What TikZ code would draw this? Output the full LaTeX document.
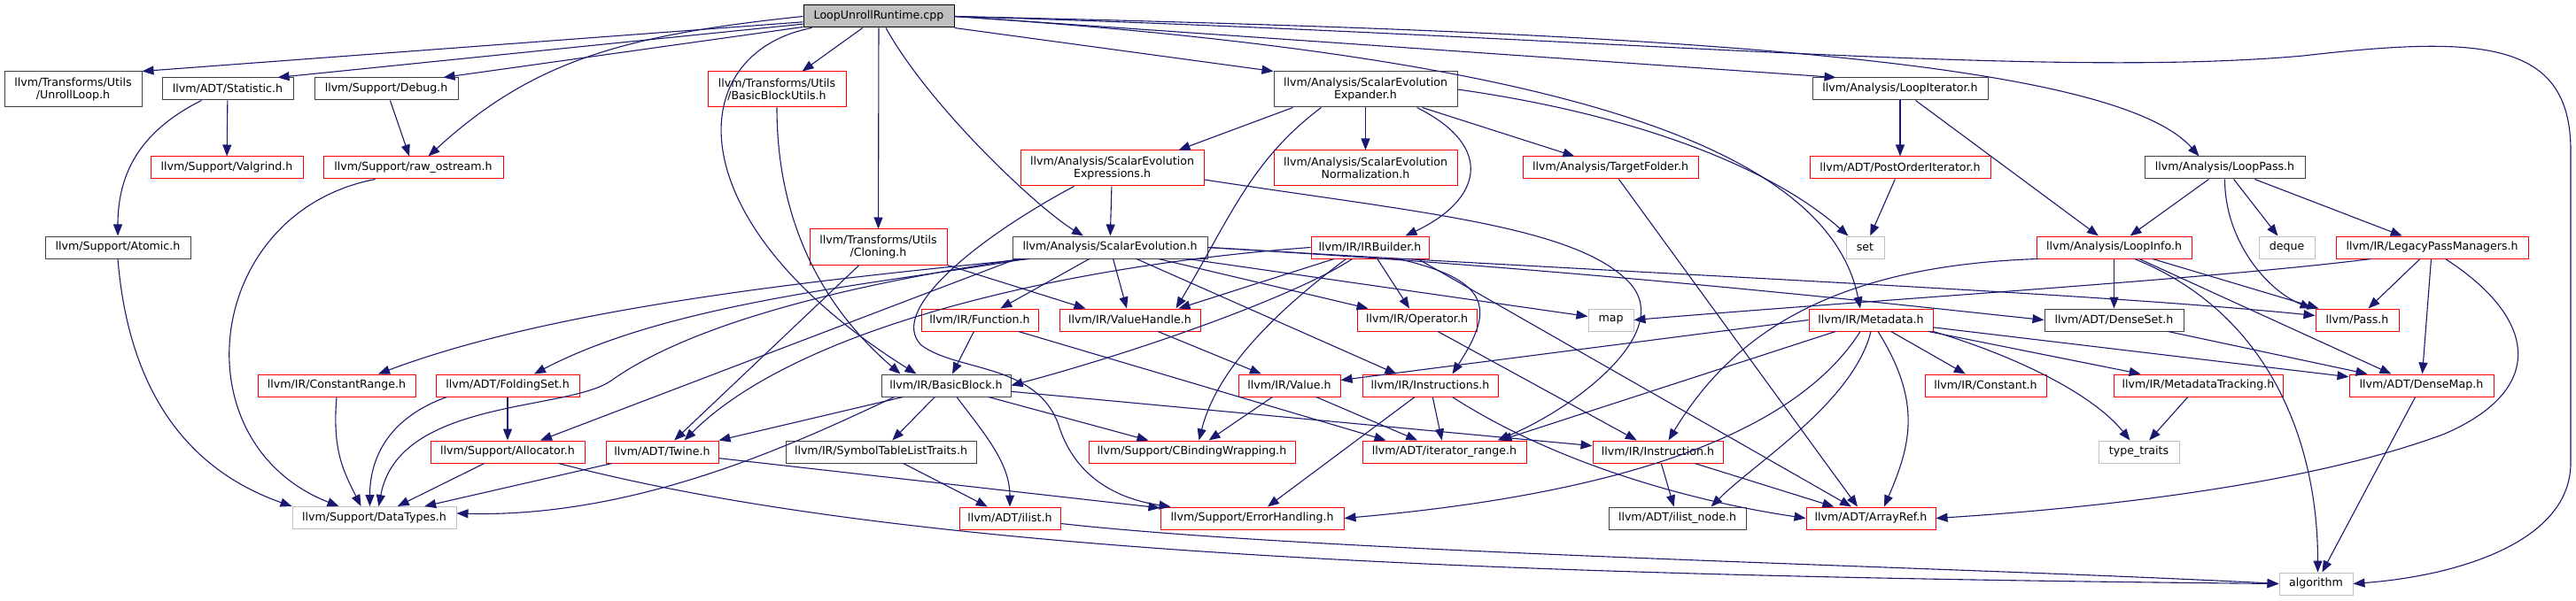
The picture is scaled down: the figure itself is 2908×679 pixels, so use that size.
\documentclass[tikz,border=0pt]{standalone}
\usepackage{fontspec}
\setmainfont{DejaVu Sans}
\usetikzlibrary{arrows.meta,calc}

\definecolor{edgeblue}{HTML}{191970}
\definecolor{boxgray}{HTML}{BFBFBF}
\definecolor{boxdark}{HTML}{404040}

\begin{document}
\begin{tikzpicture}[
  x=1pt,y=-1pt,
  font=\fontsize{12.6}{14.3}\selectfont,
  file/.style={draw,rectangle,fill=white,line width=1pt,inner xsep=2pt,inner ysep=1pt,
               minimum height=25pt,align=center},
  hdr/.style={file,draw=boxdark},
  cut/.style={file,draw=red},
  std/.style={file,draw=boxgray},
  main/.style={file,draw=black,fill=boxgray},
  two/.style={minimum height=40pt},
  dep/.style={draw=edgeblue,line width=1.1pt,-{Triangle[length=13pt,width=10pt]}},
]
\fill[white] (0,0) rectangle (2908,679);
\useasboundingbox (0,0) rectangle (2908,679);

\node[main,minimum width=170pt] (root) at (992,18.5) {LoopUnrollRuntime.cpp};

\node[hdr,two,minimum width=155pt] (unrollloop) at (82.5,101) {llvm/Transforms/Utils\\/UnrollLoop.h};
\node[hdr,minimum width=148pt] (statistic) at (257,100.5) {llvm/ADT/Statistic.h};
\node[hdr,minimum width=162pt] (debug) at (436,100.5) {llvm/Support/Debug.h};
\node[cut,two,minimum width=156pt] (bbutils) at (877,101) {llvm/Transforms/Utils\\/BasicBlockUtils.h};
\node[hdr,two,minimum width=207pt] (expander) at (1541.5,101) {llvm/Analysis/ScalarEvolution\\Expander.h};
\node[hdr,minimum width=198pt] (loopiter) at (2145,100.5) {llvm/Analysis/LoopIterator.h};

\node[cut,minimum width=172pt] (valgrind) at (256,189.5) {llvm/Support/Valgrind.h};
\node[cut,minimum width=203pt] (rawostream) at (466.5,189.5) {llvm/Support/raw\_ostream.h};
\node[cut,two,minimum width=207pt] (expressions) at (1255.5,190) {llvm/Analysis/ScalarEvolution\\Expressions.h};
\node[cut,two,minimum width=207pt] (normalization) at (1541.5,190) {llvm/Analysis/ScalarEvolution\\Normalization.h};
\node[cut,minimum width=198pt] (targetfolder) at (1818,189.5) {llvm/Analysis/TargetFolder.h};
\node[cut,minimum width=204pt] (postorder) at (2145,189.5) {llvm/ADT/PostOrderIterator.h};
\node[hdr,minimum width=181pt] (looppass) at (2511.5,189.5) {llvm/Analysis/LoopPass.h};

\node[hdr,minimum width=164pt] (atomic) at (133,279.5) {llvm/Support/Atomic.h};
\node[cut,two,minimum width=155pt] (cloning) at (991.5,279) {llvm/Transforms/Utils\\/Cloning.h};
\node[hdr,minimum width=220pt] (scev) at (1253,279.5) {llvm/Analysis/ScalarEvolution.h};
\node[cut,minimum width=133pt] (irbuilder) at (1546.5,279.5) {llvm/IR/IRBuilder.h};
\node[std,minimum width=43pt] (set) at (2105.5,279.5) {set};
\node[cut,minimum width=175pt] (loopinfo) at (2386.5,279.5) {llvm/Analysis/LoopInfo.h};
\node[std,minimum width=63pt] (deque) at (2581.5,279.5) {deque};
\node[cut,minimum width=217pt] (legacypm) at (2745.5,279.5) {llvm/IR/LegacyPassManagers.h};

\node[cut,minimum width=132pt] (function) at (1106,361.5) {llvm/IR/Function.h};
\node[cut,minimum width=159pt] (valuehandle) at (1275.5,361.5) {llvm/IR/ValueHandle.h};
\node[cut,minimum width=135pt] (operator) at (1599.5,361.5) {llvm/IR/Operator.h};
\node[std,minimum width=51pt] (map) at (1818.5,361.5) {map};
\node[cut,minimum width=140pt] (metadata) at (2112,361.5) {llvm/IR/Metadata.h};
\node[hdr,minimum width=157pt] (denseset) at (2386.5,361.5) {llvm/ADT/DenseSet.h};
\node[cut,minimum width=94pt] (pass) at (2661,361.5) {llvm/Pass.h};

\node[cut,minimum width=178pt] (constrange) at (380,435.5) {llvm/IR/ConstantRange.h};
\node[cut,minimum width=162pt] (foldingset) at (573,435.5) {llvm/ADT/FoldingSet.h};
\node[hdr,minimum width=146pt] (basicblock) at (1068,435.5) {llvm/IR/BasicBlock.h};
\node[cut,minimum width=115pt] (value) at (1455.5,435.5) {llvm/IR/Value.h};
\node[cut,minimum width=153pt] (instructions) at (1614.5,435.5) {llvm/IR/Instructions.h};
\node[cut,minimum width=137pt] (constant) at (2241.5,435.5) {llvm/IR/Constant.h};
\node[cut,minimum width=191pt] (mdtracking) at (2481.5,435.5) {llvm/IR/MetadataTracking.h};
\node[cut,minimum width=163pt] (densemap) at (2733.5,435.5) {llvm/ADT/DenseMap.h};

\node[cut,minimum width=174pt] (allocator) at (573,510.5) {llvm/Support/Allocator.h};
\node[cut,minimum width=127pt] (twine) at (747.5,510.5) {llvm/ADT/Twine.h};
\node[hdr,minimum width=215pt] (symtab) at (994.5,510.5) {llvm/IR/SymbolTableListTraits.h};
\node[cut,minimum width=233pt] (cbinding) at (1345.5,510.5) {llvm/Support/CBindingWrapping.h};
\node[cut,minimum width=185pt] (iterrange) at (1630.5,510.5) {llvm/ADT/iterator\_range.h};
\node[cut,minimum width=147pt] (instruction) at (1871.5,510.5) {llvm/IR/Instruction.h};
\node[std,minimum width=91pt] (typetraits) at (2414.5,510.5) {type\_traits};

\node[std,minimum width=185pt] (datatypes) at (422.5,585) {llvm/Support/DataTypes.h};
\node[cut,minimum width=114pt] (ilist) at (1140,585.5) {llvm/ADT/ilist.h};
\node[cut,minimum width=207pt] (errorhandling) at (1413.5,585.5) {llvm/Support/ErrorHandling.h};
\node[hdr,minimum width=155pt] (ilistnode) at (1893.5,585.5) {llvm/ADT/ilist\_node.h};
\node[cut,minimum width=146pt] (arrayref) at (2112,585.5) {llvm/ADT/ArrayRef.h};

\node[std,minimum width=83pt] (algorithm) at (2614.5,659.5) {algorithm};

% includes of the .cpp file
\draw[dep] (root) -- (unrollloop.north east);
\draw[dep] (root) -- ($(statistic.north east)+(-18,0)$);
\draw[dep] (root) -- ($(debug.north east)+(-17,0)$);
\draw[dep] (root.west) .. controls (700,40) and (600,70) .. ($(rawostream.north)+(17,0)$);
\draw[dep] (root) -- (bbutils);
\draw[dep] ($(root.south west)+(10,0)$) .. controls (770,60) and (760,250) .. ($(basicblock.north west)+(40,0)$);
\draw[dep] (root) -- (cloning);
\draw[dep] ($(root.south)+(8,0)$) .. controls +(50,90) and +(-50,-30) .. ($(scev.north)+(-30,0)$);
\draw[dep] (root.south east) -- (expander.north west);
\draw[dep] (root.east) -- ($(loopiter.north west)+(27,0)$);
\draw[dep] (root.east) .. controls (1800,35) and (2380,60) .. ($(looppass.north west)+(62,0)$);
\draw[dep] (root.east) .. controls (1700,60) and (2060,150) .. ($(metadata.north)+(-12,0)$);
\draw[dep] (root.east) .. controls (1800,40) and (2300,90) .. (2600,63)
  .. controls (2800,40) and (2902,45) .. (2902,170) -- (2902,523)
  .. controls (2902,610) and (2780,650) .. (algorithm.east);

\draw[dep] (statistic) -- (valgrind);
\draw[dep] ($(statistic.south west)+(45,0)$) .. controls +(-60,30) and +(0,-80) .. (atomic.north);
\draw[dep] (debug) -- (rawostream);
\draw[dep] ($(rawostream.south)+(-43,0)$) .. controls (230,240) and (200,500) .. ($(datatypes.north)+(-40,0)$);
\draw[dep] (atomic.south) .. controls (145,440) and (210,530) .. (datatypes.north west);

\draw[dep] (bbutils.south) .. controls +(0,150) and +(-70,-60) .. ($(basicblock.north west)+(22,0)$);
\draw[dep] (cloning) -- (twine);
\draw[dep] (cloning.south east) -- ($(valuehandle.north west)+(30,0)$);

\draw[dep] ($(expander.south west)+(22,0)$) -- ($(expressions.north)+(75,0)$);
\draw[dep] (expander) -- (normalization);
\draw[dep] (expander) -- (targetfolder);
\draw[dep] ($(expander.south)+(58,0)$) .. controls +(90,45) and +(85,-40) .. ($(irbuilder.north)+(40,0)$);
\draw[dep] (expander.east) .. controls (1850,130) and (2000,190) .. ($(set.north west)+(3,0)$);
\draw[dep] ($(expander.south west)+(54,0)$) .. controls +(-80,60) and +(60,-100) .. ($(valuehandle.north east)+(-28,0)$);

\draw[dep] (expressions) -- (scev);
\draw[dep] ($(expressions.south west)+(61,0)$) .. controls (1110,265) and (1000,350) .. (1040,390)
  .. controls (1080,420) and (1170,410) .. (1195,480)
  .. controls (1215,545) and (1270,565) .. ($(errorhandling.north west)+(12,0)$);
\draw[dep] ($(expressions.east)+(0,13)$) .. controls (1600,240) and (1780,255) .. (1840,320)
  .. controls (1890,375) and (1780,460) .. ($(iterrange.north east)+(-33,0)$);

\draw[dep] ($(scev.south west)+(20,0)$) .. controls (900,318) and (620,350) .. ($(constrange.north)+(47,0)$);
\draw[dep] ($(scev.south west)+(15,0)$) .. controls (1000,320) and (760,340) .. ($(foldingset.north)+(30,0)$);
\draw[dep] ($(scev.south west)+(10,0)$) .. controls (900,330) and (760,380) .. (690,430)
  .. controls (640,465) and (450,450) .. ($(datatypes.north)+(5,0)$);
\draw[dep] ($(scev.south west)+(5,0)$) -- ($(allocator.north)+(37,0)$);
\draw[dep] (scev) -- (function);
\draw[dep] (scev) -- (valuehandle);
\draw[dep] (scev) -- (operator);
\draw[dep] ($(scev.south)+(30,0)$) -- ($(instructions.north)+(-38,0)$);
\draw[dep] ($(scev.south east)+(-23,0)$) -- ($(map.west)+(0,-4)$);
\draw[dep] (scev.east) .. controls (1800,305) and (2150,345) .. (denseset.west);
\draw[dep] (scev.east) .. controls (1900,312) and (2350,330) .. ($(pass.west)+(0,-5)$);

\draw[dep] ($(irbuilder.south west)+(47,0)$) .. controls +(-60,40) and +(150,-40) .. (basicblock.east);
\draw[dep] (irbuilder.west) .. controls (1200,300) and (900,370) .. ($(twine.north)+(25,0)$);
\draw[dep] (irbuilder) -- ($(valuehandle.north east)+(-25,0)$);
\draw[dep] ($(irbuilder.south west)+(40,0)$) .. controls +(-80,60) and +(20,-80) .. ($(cbinding.north)+(8,0)$);
\draw[dep] (irbuilder) -- (operator);
\draw[dep] ($(irbuilder.south east)+(-35,0)$) .. controls +(110,25) and +(45,-70) .. ($(instructions.north)+(25,0)$);
\draw[dep] ($(irbuilder.south east)+(-13,0)$) -- ($(arrayref.north)+(-22,0)$);

\draw[dep] (function) -- ($(basicblock.north)+(7,0)$);
\draw[dep] (function) -- ($(iterrange.north west)+(27,0)$);
\draw[dep] (valuehandle) -- (value);

\draw[dep] (metadata.west) -- ($(value.east)+(0,-6)$);
\draw[dep] (metadata) -- ($(iterrange.north east)+(-30,0)$);
\draw[dep] ($(metadata.south)+(-12,0)$) .. controls +(-80,126) and +(283,-25) .. (errorhandling.east);
\draw[dep] (metadata.south) .. controls +(-20,80) and +(50,-50) .. ($(ilistnode.north east)+(-40,0)$);
\draw[dep] ($(metadata.south)+(8,0)$) .. controls +(50,80) and +(30,-70) .. ($(arrayref.north)+(15,0)$);
\draw[dep] (metadata) -- (constant);
\draw[dep] (metadata) -- (mdtracking);
\draw[dep] (metadata.south east) .. controls +(100,30) and +(-40,-50) .. ($(typetraits.north)+(-10,0)$);
\draw[dep] (metadata) -- (densemap);

\draw[dep] (loopinfo) -- (denseset);
\draw[dep] ($(loopinfo.south west)+(2,0)$) .. controls (2080,300) and (1960,370) .. ($(instruction.north)+(12,0)$);
\draw[dep] (loopinfo) -- ($(densemap.north west)+(48,0)$);
\draw[dep] (loopinfo) -- (pass);
\draw[dep] ($(loopinfo.south)+(23,0)$) .. controls +(150,60) and +(0,-150) .. ($(algorithm.north)+(2,0)$);

\draw[dep] (looppass) -- (loopinfo);
\draw[dep] (looppass.south) .. controls +(0,70) and +(-50,-20) .. ($(pass.north west)+(-4,0)$);
\draw[dep] (looppass) -- (deque);
\draw[dep] (looppass) -- (legacypm);

\draw[dep] ($(legacypm.south west)+(40,0)$) .. controls (2500,315) and (2100,340) .. (map.east);
\draw[dep] (legacypm) -- ($(pass.north east)+(-35,0)$);
\draw[dep] (legacypm) -- (densemap);
\draw[dep] ($(legacypm.south)+(15,0)$) .. controls (2865,360) and (2875,440) .. (2760,490)
  .. controls (2600,550) and (2350,575) .. (arrayref.east);

\draw[dep] (denseset) -- (densemap);
\draw[dep] (densemap) -- (algorithm);
\draw[dep] (mdtracking) -- (typetraits);
\draw[dep] (targetfolder) -- ($(arrayref.north)+(-15,0)$);
\draw[dep] (loopiter) -- (postorder);
\draw[dep] (loopiter) -- (loopinfo);
\draw[dep] (postorder) -- (set);

\draw[dep] (basicblock) -- (symtab);
\draw[dep] ($(basicblock.south)+(12,0)$) .. controls +(30,40) and +(0,-50) .. (ilist.north);
\draw[dep] (basicblock) -- ($(cbinding.north west)+(68,0)$);
\draw[dep] (basicblock) -- (instruction);
\draw[dep] ($(basicblock.south west)+(25,0)$) -- (twine.north east);
\draw[dep] ($(basicblock.south west)+(15,0)$) .. controls (900,500) and (720,585) .. ($(datatypes.east)+(0,-5)$);
\draw[dep] (symtab) -- (ilist);

\draw[dep] (value) -- (cbinding);
\draw[dep] (value) -- (iterrange);
\draw[dep] (instructions) -- (iterrange);
\draw[dep] (instructions) -- (errorhandling);
\draw[dep] ($(instructions.south)+(25,0)$) .. controls (1750,520) and (1900,565) .. (arrayref.west);
\draw[dep] (operator) -- (instruction);
\draw[dep] (instruction) -- (ilistnode);
\draw[dep] (instruction) -- (arrayref);

\draw[dep] (twine) -- (errorhandling);
\draw[dep] (twine) -- (datatypes);
\draw[dep] (allocator) -- (datatypes);
\draw[dep] ($(allocator.south east)+(-30,0)$) .. controls (1000,620) and (1600,650) .. (algorithm.west);
\draw[dep] ($(ilist.east)+(0,6)$) .. controls (1500,625) and (2200,640) .. (algorithm.west);
\draw[dep] (foldingset) -- (allocator);
\draw[dep] ($(foldingset.south west)+(13,0)$) .. controls +(-70,25) and +(0,-50) .. ($(datatypes.north)+(-5,0)$);
\draw[dep] (constrange.south) .. controls +(-5,60) and +(-20,-40) .. ($(datatypes.north)+(-15,0)$);
\end{tikzpicture}
\end{document}
